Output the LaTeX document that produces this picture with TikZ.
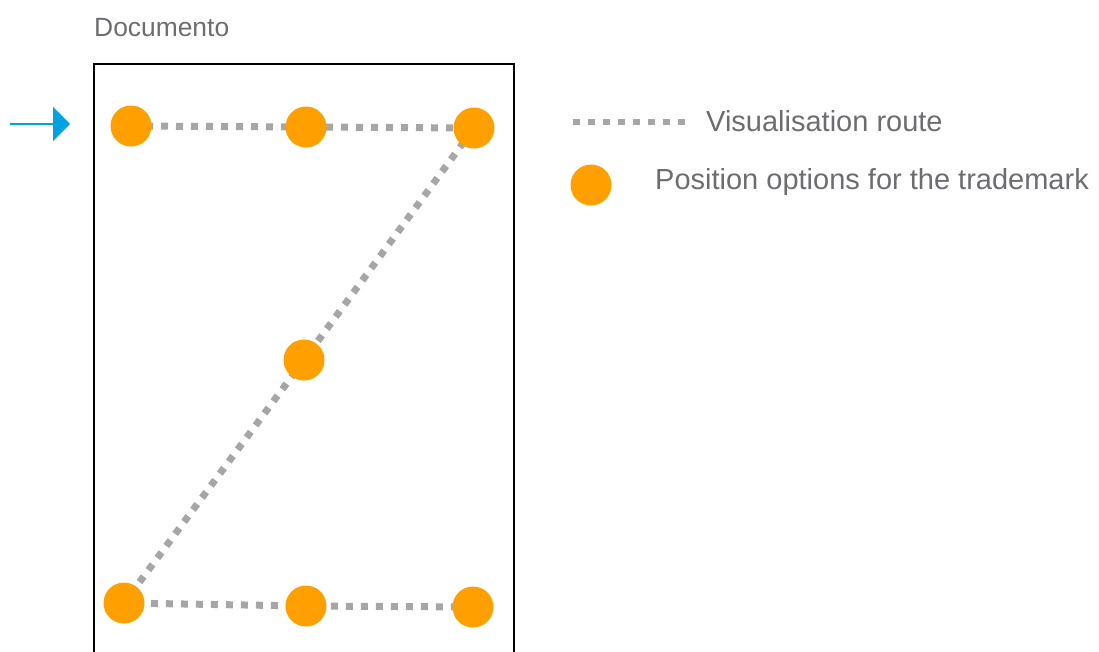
\documentclass[tikz,border=0pt]{standalone}
\usepackage{fontspec}
\setmainfont{Liberation Sans}
\usetikzlibrary{arrows.meta,backgrounds}
\definecolor{spotorange}{RGB}{255,159,0}
\definecolor{routegray}{RGB}{166,166,166}
\definecolor{labelgray}{RGB}{108,109,113}
\definecolor{arrowblue}{RGB}{0,163,224}
\tikzset{
  spot/.style={circle, fill=spotorange, minimum size=41pt, inner sep=0pt},
  route/.style={routegray, line width=7pt, dash pattern=on 7pt off 8pt},
  legendtext/.style={anchor=base west, inner sep=0pt, text=labelgray, font=\fontsize{29}{34}\selectfont},
}
\begin{document}
\begin{tikzpicture}[x=1pt,y=-1pt]
\useasboundingbox (0,0) rectangle (1099,651);
\draw[line width=2.2pt] (94,660)--(94,64)--(514,64)--(514,660);
\node[anchor=base west, inner sep=0pt, text=labelgray, font=\fontsize{26.4}{30}\selectfont] (doc) at (94,36) {Documento};
% positions
\node[spot] (t1) at (131,126) {};
\node[spot] (t2) at (306,127) {};
\node[spot] (t3) at (474,128) {};
\node[spot] (m) at (304,360) {};
\node[spot] (b1) at (124,603) {};
\node[spot] (b2) at (306,606) {};
\node[spot] (b3) at (473,607) {};
\begin{scope}[on background layer]
\draw[route] (t1.center)--(t2.center)--(t3.center)--(m.center)--(b1.center)--(b2.center)--(b3.center);
\end{scope}
% entry arrow
\coordinate (in) at (10,124);
\coordinate (tip) at (70,124);
\draw[arrowblue, line width=2pt, -{Triangle[length=17pt,width=34pt]}] (in)--(tip);
% legend
\coordinate (l1) at (573,122);
\coordinate (l2) at (690,122);
\draw[route, line width=6pt] (l1)--(l2);
\node[legendtext] (vis) at (706,131.5) {Visualisation route};
\node[spot] (key) at (591,185) {};
\node[legendtext] (pos) at (655,189) {Position options for the trademark};
\end{tikzpicture}
\end{document}
